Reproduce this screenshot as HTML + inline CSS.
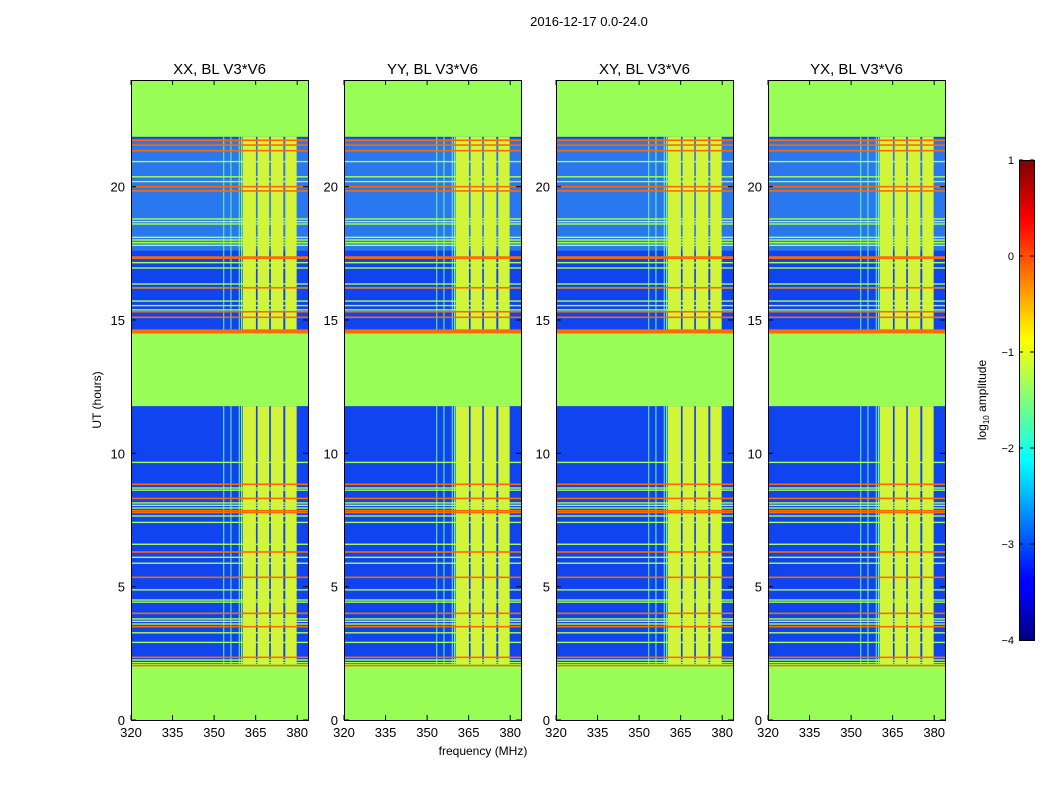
<!DOCTYPE html>
<html><head><meta charset="utf-8"><style>
body{margin:0;background:#fff;font-family:"Liberation Sans",sans-serif}
</style></head><body>
<svg id="c" width="1050" height="800" xmlns="http://www.w3.org/2000/svg">
<defs>
<linearGradient id="jet" x1="0" y1="1" x2="0" y2="0">
<stop offset="0" stop-color="#00007f"/><stop offset="0.11" stop-color="#0000ff"/><stop offset="0.125" stop-color="#0000ff"/>
<stop offset="0.34" stop-color="#00ddff"/><stop offset="0.375" stop-color="#00ffff"/><stop offset="0.5" stop-color="#7dff7a"/>
<stop offset="0.625" stop-color="#ffff00"/><stop offset="0.66" stop-color="#ffe000"/><stop offset="0.875" stop-color="#ff0000"/><stop offset="1" stop-color="#7f0000"/>
</linearGradient>
</defs>
<text x="589" y="26" font-size="13" text-anchor="middle">2016-12-17 0.0-24.0</text>
</svg>
<script>
const panelNames=["XX, BL V3*V6","YY, BL V3*V6","XY, BL V3*V6","YX, BL V3*V6"];
const panelLefts=[131,344,556,768];
const xTicks=[320,335,350,365,380];
const yTicks=[0,5,10,15,20];
const dataBlocks=[[2.1,11.77],[14.5,21.87]];
const lightBlocks=[[17.6,21.8]];
const redLines=[21.74,21.56,21.35,20.0,19.84,17.32,17.36,16.21,15.31,15.1,8.84,8.31,7.85,7.78,6.3,5.35,4.0,3.5,2.35,2.04];
const greenLines=[20.94,20.37,20.19,18.79,18.69,18.6,18.1,18.0,17.9,17.8,17.15,16.95,16.35,16.2,15.71,15.54,15.38,9.66,8.7,8.62,8.14,8.05,7.95,7.65,7.41,6.59,6.1,5.88,4.88,4.5,4.42,3.79,3.7,3.6,3.27,2.91,2.25,2.15];
const redBand=[14.5,14.65];
const bandCols=[[360.3,365.1],[365.7,369.9],[370.5,375.0],[375.7,379.8]];
const vLines=[353.3,355.9,358.9,359.7];
const cbTicks=[1,0,-1,-2,-3,-4];
const svg=document.getElementById('c');
const NS="http://www.w3.org/2000/svg";
function mk(t,a,p){const e=document.createElementNS(NS,t);for(const k in a)e.setAttribute(k,a[k]);(p||svg).appendChild(e);return e;}
const PW=177,TOP=80,BOT=720;
function yS(h){return BOT-h*(BOT-TOP)/24;}
panelNames.forEach((nm,i)=>{
  const L=panelLefts[i];
  const xS=m=>L+(m-320)*2.77;
  const g=mk('g',{});
  
  
  mk('rect',{x:L,y:TOP,width:PW,height:BOT-TOP,fill:'#99ff57'},g);
  dataBlocks.forEach(b=>{const r=mk('rect',{x:L,y:yS(b[1]),width:PW,height:yS(b[0])-yS(b[1]),fill:'#1044ee'},g);
    });
  lightBlocks.forEach(b=>{mk('rect',{x:L,y:yS(b[1]),width:PW,height:yS(b[0])-yS(b[1]),fill:'#2a78f0'},g);});
  vLines.forEach(m=>{dataBlocks.forEach(b=>{mk('rect',{x:xS(m),y:yS(b[1]),width:1,height:yS(b[0])-yS(b[1]),fill:'#66ffa0'},g);});});
  greenLines.forEach(h=>{const r=mk('rect',{x:L,y:yS(h)-0.7,width:PW,height:1.4,fill:'#a8ff50'},g);
    });
  bandCols.forEach(c=>{dataBlocks.forEach(b=>{const r=mk('rect',{x:xS(c[0]),y:yS(b[1]),width:xS(c[1])-xS(c[0]),height:yS(b[0])-yS(b[1]),fill:'#d2f53a'},g);
    });});
  redLines.forEach(h=>{const r=mk('rect',{x:L,y:yS(h)-0.8,width:PW,height:1.6,fill:'#ff6a00'},g);
    });
  mk('rect',{x:L,y:yS(redBand[1]),width:PW,height:yS(redBand[0])-yS(redBand[1]),fill:'#ff6a00'},g);
  mk('rect',{x:L+0.5,y:TOP+0.5,width:PW,height:BOT-TOP,fill:'none',stroke:'#000'},g);
  const t=mk('text',{x:L+PW/2,y:74,'font-size':15,'text-anchor':'middle'},g);t.textContent=nm;
  
  xTicks.forEach(v=>{const x=xS(v);mk('line',{x1:x,x2:x,y1:BOT,y2:BOT-5,stroke:'#000'},g);mk('line',{x1:x,x2:x,y1:TOP,y2:TOP+5,stroke:'#000'},g);
    const tt=mk('text',{x:x,y:BOT+17,'font-size':13,'text-anchor':'middle'},g);tt.textContent=v;
    });
  yTicks.forEach(v=>{const y=yS(v);mk('line',{x1:L,x2:L+5,y1:y,y2:y,stroke:'#000'},g);mk('line',{x1:L+PW,x2:L+PW-5,y1:y,y2:y,stroke:'#000'},g);
    const tt=mk('text',{x:L-6,y:y+5,'font-size':13,'text-anchor':'end'},g);tt.textContent=v;
    });
});
let t=mk('text',{x:483,y:755,'font-size':12,'text-anchor':'middle'});t.textContent='frequency (MHz)';

t=mk('text',{x:101,y:400,'font-size':12,'text-anchor':'middle',transform:'rotate(-90 101 400)'});t.textContent='UT (hours)';

const cb=mk('g',{});
mk('rect',{x:1019.5,y:160.5,width:15,height:480,fill:'url(#jet)',stroke:'#000'},cb);
cbTicks.forEach(v=>{const y=160+(1-v)*96;mk('line',{x1:1019,x2:1023,y1:y,y2:y,stroke:'#000'},cb);mk('line',{x1:1034,x2:1030,y1:y,y2:y,stroke:'#000'},cb);
  const tt=mk('text',{x:1014,y:y+4,'font-size':11,'text-anchor':'end'},cb);tt.textContent=(v<0?'\u2212'+(-v):v);
  });
t=mk('text',{x:986,y:400,'font-size':12,'text-anchor':'middle',transform:'rotate(-90 986 400)'},cb);
t.innerHTML='log<tspan font-size="8" dy="3">10</tspan><tspan dy="-3"> amplitude</tspan>';

</script>
</body></html>
